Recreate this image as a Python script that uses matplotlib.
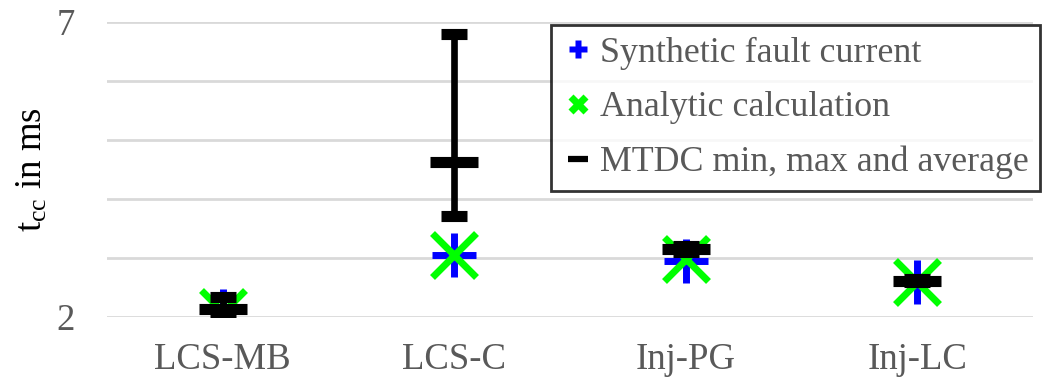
import matplotlib.pyplot as plt
from matplotlib.lines import Line2D
import numpy as np

plt.rcParams['font.family'] = ['Liberation Serif', 'DejaVu Serif']
plt.rcParams['mathtext.fontset'] = 'custom'
plt.rcParams['mathtext.rm'] = 'Liberation Serif'
plt.rcParams['mathtext.it'] = 'Liberation Serif'

# data
categories = ['LCS-MB', 'LCS-C', 'Inj-PG', 'Inj-LC']
synthetic = [2.1, 3.05, 2.95, 2.58]
analytic = [2.08, 3.05, 2.97, 2.59]
mtdc_avg = [2.12, 4.63, 3.15, 2.61]
mtdc_min = [2.05, 3.71, 3.1, 2.58]
mtdc_max = [2.33, 6.8, 3.2, 2.64]

grey = '#595959'
fs = 26.5

fig = plt.figure(figsize=(10.53, 3.79), dpi=100)
ax = fig.add_axes([107/1053, 1 - 316.5/379, (1033 - 107)/1053, (316.5 - 22)/379])

x = np.arange(len(categories))
avg = np.array(mtdc_avg)
yerr = [avg - np.array(mtdc_min), np.array(mtdc_max) - avg]

ax.plot(x, synthetic, ls='none', marker='+', ms=32, mew=5, color='#0000ff', zorder=3)
ax.plot(x, analytic, ls='none', marker='x', ms=32, mew=5, color='#00ff00', zorder=4)
ax.errorbar(x, avg, yerr=yerr, ls='none', marker='_', ms=34.5, mew=8,
            color='black', ecolor='black', elinewidth=4.8, capsize=9.4, capthick=4.3, zorder=5)

ax.set_xlim(-0.5, 3.5)
ax.set_ylim(2, 7)
ax.set_yticks([2, 3, 4, 5, 6, 7])
ax.set_yticklabels(['2', '', '', '', '', '7'])
ax.set_xticks(x)
ax.set_xticklabels(categories)
ax.grid(axis='y', color='#d9d9d9', lw=2)
ax.set_axisbelow(True)
for s in ax.spines.values():
    s.set_visible(False)
ax.tick_params(length=0, labelsize=fs, colors=grey)
ax.tick_params(axis='x', pad=19)
ax.tick_params(axis='y', pad=23)
fig.text(32/1053, 1 - 170/379, r'$\mathregular{t_{cc}}$ in ms', fontsize=fs, color='black',
         rotation=90, ha='center', va='center')

handles = [
    Line2D([], [], ls='none', marker='P', ms=13, color='#0000ff', mec='none'),
    Line2D([], [], ls='none', marker='X', ms=14, color='#00ff00', mec='none'),
    Line2D([], [], ls='none', marker='_', ms=15, mew=4.5, color='black'),
]
labels = ['Synthetic fault current', 'Analytic calculation', 'MTDC min, max and average']
leg = fig.legend(handles, labels, loc='upper right', bbox_to_anchor=(1040/1053, 1 - 25/379),
                 bbox_transform=fig.transFigure, borderaxespad=0, fontsize=25.8,
                 frameon=True, fancybox=False, handlelength=0.9, handletextpad=0.15,
                 labelspacing=0.6, borderpad=0.32, labelcolor=grey)
leg.get_frame().set_edgecolor('black')
leg.get_frame().set_linewidth(2)

fig.savefig('out.png', dpi=100)
